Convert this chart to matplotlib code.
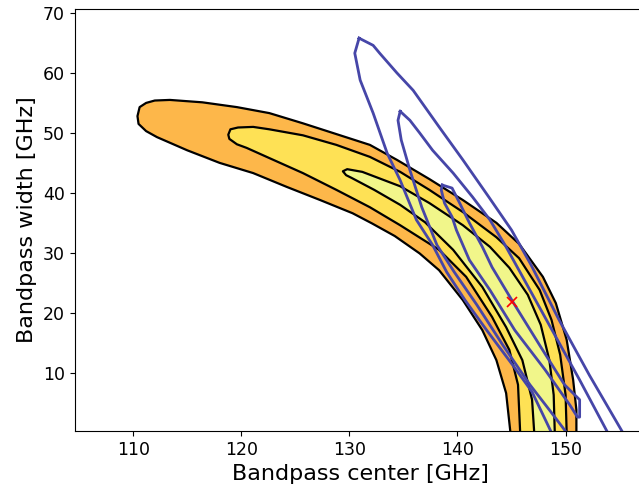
import matplotlib
matplotlib.use("Agg")
import matplotlib.pyplot as plt
import numpy as np

# filled likelihood contours, each as upper / lower edge
# 1st level (orange)
c1_top = [(110.4, 52.8), (110.6, 54.3), (111.2, 55.0), (112.0, 55.4), (113.4, 55.5),
          (116.4, 55.1), (119.6, 54.3), (122.6, 53.3), (125.7, 51.6), (128.8, 49.8),
          (131.9, 48.0), (134.4, 45.5), (137.4, 42.3), (140.5, 38.8), (143.6, 35.0),
          (145.7, 31.5), (147.9, 26.0), (149.1, 21.6), (150.1, 15.5), (150.7, 8.8),
          (151.0, 3.8), (151.0, 0.0)]
c1_bot = [(110.5, 51.5), (111.2, 50.3), (112.2, 49.3), (115.0, 47.1), (118.0, 45.0),
          (121.1, 43.3), (124.2, 41.0), (127.3, 38.8), (130.3, 36.6), (132.1, 34.9),
          (134.2, 32.8), (136.5, 29.9), (138.3, 27.1), (140.5, 22.1), (142.3, 17.1),
          (143.6, 12.1), (144.5, 6.6), (144.9, 0.0)]
# 2nd level (yellow)
c2_top = [(118.8, 49.7), (119.0, 50.6), (119.7, 50.9), (121.1, 51.0), (122.6, 50.6),
          (125.7, 49.6), (128.8, 48.0), (131.9, 46.0), (134.7, 43.5), (137.4, 40.5),
          (140.5, 36.8), (143.6, 32.6), (145.7, 29.1), (147.6, 23.8), (148.7, 18.8),
          (149.5, 13.0), (150.0, 6.3), (150.1, 0.0)]
c2_bot = [(118.9, 49.0), (119.6, 48.1), (120.5, 47.5), (122.6, 45.8), (125.7, 43.3),
          (128.8, 40.5), (131.9, 37.6), (134.7, 34.6), (138.3, 30.5), (140.8, 26.0),
          (143.2, 19.3), (144.8, 13.8), (145.6, 8.0), (145.8, 0.0)]
# 3rd level (light yellow)
c3_top = [(129.4, 43.6), (129.8, 43.95), (131.2, 43.5), (134.7, 41.1), (137.4, 38.3),
          (140.5, 34.6), (143.0, 31.0), (144.8, 27.5), (146.5, 23.0), (147.7, 18.0),
          (148.5, 12.1), (148.9, 6.3), (149.0, 0.0)]
c3_bot = [(129.7, 42.95), (130.2, 42.5), (132.3, 40.5), (134.7, 38.0), (137.0, 35.1),
          (139.6, 30.5), (142.3, 24.3), (144.5, 17.6), (146.0, 12.1), (146.9, 5.5),
          (147.1, 0.0)]

# second data set (blue outlines)
b1_left = [(130.9, 65.8), (130.5, 63.3), (131.0, 58.8), (132.2, 53.3), (133.5, 46.6),
           (134.7, 42.1), (136.2, 35.5), (137.7, 31.3), (139.0, 26.8), (140.7, 22.1),
           (142.7, 17.1), (145.1, 11.3), (146.9, 6.8), (148.7, 0.0)]
b1_right = [(132.2, 64.6), (132.8, 63.3), (134.4, 60.0), (135.9, 57.1), (138.3, 51.0),
            (140.5, 45.5), (142.9, 39.3), (145.0, 33.8), (146.8, 28.0), (149.4, 18.8),
            (152.2, 9.6), (155.3, 0.0)]
b2_left = [(134.7, 53.6), (134.5, 52.1), (134.8, 48.8), (135.6, 43.8), (136.7, 37.6),
           (138.1, 31.3), (139.7, 26.8), (141.8, 21.3), (144.2, 14.6), (146.7, 8.0),
           (148.5, 3.8), (150.1, 0.0)]
b2_right = [(135.6, 52.1), (136.5, 50.0), (137.7, 47.1), (139.6, 43.3), (141.4, 39.3),
            (143.0, 35.5), (144.4, 31.3), (146.7, 23.8), (149.0, 16.3), (151.3, 8.8),
            (153.9, 0.0)]
b3_left = [(138.6, 41.3), (138.5, 40.5), (138.8, 38.3), (139.5, 36.0), (139.9, 33.8),
           (141.1, 28.8), (143.0, 23.8), (145.3, 17.1), (148.1, 10.5), (150.4, 4.6),
           (151.1, 2.6)]
b3_right = [(139.5, 40.8), (140.2, 38.3), (141.1, 35.0), (142.3, 31.0), (143.2, 27.6),
            (145.3, 21.3), (147.6, 14.6), (149.9, 8.0), (151.3, 5.5), (151.3, 2.6)]

best_fit = (145.0, 21.8)


def ring(a, b):
    pts = np.array(a + b[::-1])
    return pts[:, 0], pts[:, 1]


fig = plt.figure(figsize=(6.39, 4.88), dpi=100)
ax = fig.add_axes([0.117, 0.117, 0.895, 0.865])

fills = [(c1_top, c1_bot, '#fdb74a'), (c2_top, c2_bot, '#fee155'), (c3_top, c3_bot, '#f1f68a')]
for top, bot, col in fills:
    xs, ys = ring(top, bot)
    ax.fill(xs, ys, facecolor=col, edgecolor='black', linewidth=1.6,
            joinstyle='round', zorder=1)

for left, right in [(b1_left, b1_right), (b2_left, b2_right), (b3_left, b3_right)]:
    xs, ys = ring(left, right)
    ax.plot(np.r_[xs, xs[0]], np.r_[ys, ys[0]], color='#4646a8', linewidth=2.0,
            solid_joinstyle='round', zorder=2)

ax.plot(best_fit[0], best_fit[1], 'x', color='red', ms=7, mew=1.2, zorder=3)

ax.set_xlim(104.6, 157.5)
ax.set_ylim(0.3, 70.7)
ax.set_xticks([110, 120, 130, 140, 150])
ax.set_yticks([10, 20, 30, 40, 50, 60, 70])
ax.tick_params(labelsize=12.5)
ax.set_xlabel("Bandpass center [GHz]", fontsize=16)
ax.set_ylabel("Bandpass width [GHz]", fontsize=16)

fig.savefig("out.png", dpi=100)
